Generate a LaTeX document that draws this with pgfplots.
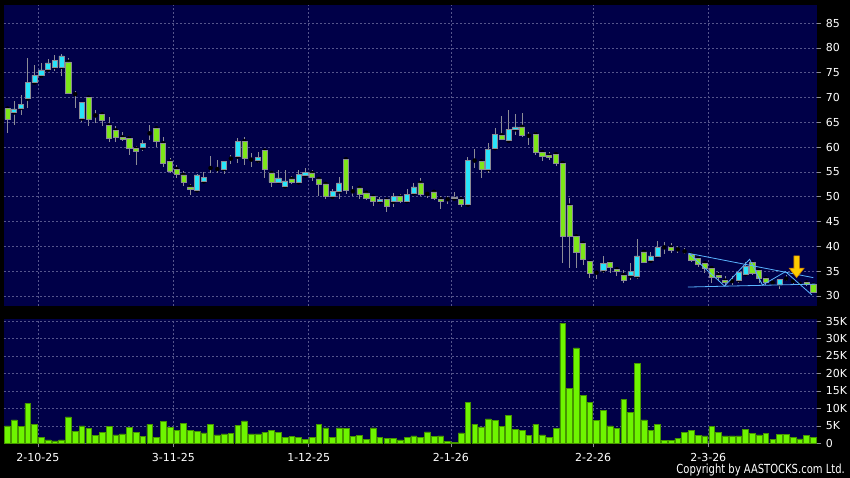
\documentclass[border=0pt]{standalone}
\usepackage{pgfplots}
\usepackage{pgfplotstable}
\pgfplotsset{compat=1.18}
\usepackage{fontspec}
\setmainfont{DejaVu Sans}
\definecolor{navy}{RGB}{0,0,72}
\definecolor{gridc}{RGB}{85,85,140}
\definecolor{upc}{RGB}{40,228,250}
\definecolor{dnc}{RGB}{125,230,25}
\definecolor{volc}{RGB}{110,245,0}
\definecolor{volb}{RGB}{70,150,0}
\definecolor{wick}{RGB}{140,140,150}
\definecolor{trend}{RGB}{90,180,255}
\definecolor{arry}{RGB}{255,205,0}
\definecolor{arro}{RGB}{210,130,0}

\pgfplotstableread{
i o h l c
0 67.8 68.0 62.8 65.6
1 67.0 69.3 64.5 67.7
2 67.9 70.5 66.5 68.6
3 69.8 78.0 68.0 73.0
4 73.0 76.5 72.7 74.5
5 74.4 77.0 74.0 75.6
6 75.7 77.7 75.5 77.0
7 76.2 78.5 75.3 77.5
8 76.2 78.7 74.3 78.4
9 77.2 77.9 70.7 70.8
10 70.7 71.3 68.0 70.7
11 65.8 69.2 65.0 69.0
12 70.0 70.2 64.2 65.7
13 66.4 67.5 64.8 66.4
14 66.6 66.9 64.2 65.4
15 64.4 66.0 61.1 61.8
16 63.4 64.2 61.1 62.0
17 62.0 63.0 61.3 61.6
18 61.8 62.2 58.5 59.8
19 59.7 60.2 56.5 59.1
20 59.9 61.5 59.3 60.7
21 62.8 64.5 61.5 62.8
22 63.8 64.0 60.1 61.1
23 60.8 62.0 56.0 56.7
24 57.1 57.8 54.7 55.1
25 55.6 56.5 53.8 54.5
26 54.4 55.1 52.1 52.9
27 52.0 52.5 50.3 51.6
28 51.3 54.5 50.9 54.4
29 53.1 55.0 52.9 53.9
30 55.8 58.3 54.8 55.8
31 55.6 57.5 54.7 55.6
32 55.6 57.3 54.5 57.2
33 57.7 58.5 56.7 57.7
34 58.1 61.8 56.8 61.2
35 61.2 62.0 56.5 57.8
36 57.5 58.9 56.1 57.5
37 57.3 59.1 56.8 58.0
38 59.3 59.5 53.8 55.5
39 54.8 55.0 52.0 52.9
40 53.0 55.5 52.8 53.8
41 52.1 55.3 52.1 53.2
42 53.6 54.1 52.6 52.9
43 52.9 55.5 52.7 54.5
44 54.3 55.8 54.0 54.9
45 54.8 55.5 53.1 54.0
46 53.6 53.6 50.1 52.6
47 52.6 52.8 49.6 50.1
48 50.0 51.5 49.8 51.1
49 51.1 53.9 49.5 52.8
50 57.6 57.8 50.5 51.3
51 51.1 52.1 50.1 51.1
52 51.8 52.1 49.6 50.4
53 50.8 50.8 49.4 49.7
54 50.0 50.1 48.1 49.0
55 49.0 50.0 48.5 49.4
56 49.4 49.6 46.9 48.1
57 49.0 50.8 48.0 50.0
58 50.0 50.5 48.7 49.0
59 49.1 51.5 48.8 50.5
60 50.7 52.8 50.5 52.0
61 52.8 53.8 50.1 50.5
62 50.6 50.9 49.8 50.6
63 51.0 51.4 49.4 49.6
64 49.5 50.1 47.5 49.1
65 49.5 50.1 48.5 49.5
66 49.6 51.0 49.5 49.9
67 49.5 49.8 48.0 48.4
68 48.4 58.1 48.3 57.3
69 57.3 59.6 55.8 57.3
70 57.1 57.4 53.8 55.6
71 55.6 60.8 54.7 59.5
72 59.8 63.8 59.8 62.6
73 62.4 66.3 61.4 61.6
74 61.3 67.5 61.3 63.6
75 63.6 66.7 62.5 64.1
76 64.1 66.8 62.0 62.3
77 62.3 63.0 60.5 62.3
78 62.6 63.0 58.5 59.0
79 59.0 59.2 57.3 58.1
80 58.3 59.1 57.4 57.9
81 58.6 58.8 56.2 56.8
82 56.8 57.2 36.7 42.1
83 48.2 49.7 35.6 42.0
84 42.0 42.0 35.6 38.8
85 40.6 40.8 36.3 37.3
86 36.9 37.2 33.6 34.6
87 34.7 35.0 33.4 34.7
88 35.2 38.1 34.6 36.6
89 36.7 36.9 34.6 35.8
90 35.4 35.6 34.0 35.0
91 34.2 35.2 32.7 33.2
92 34.1 36.6 33.3 34.9
93 34.0 41.5 33.4 38.1
94 38.9 39.1 36.6 36.8
95 37.1 38.9 36.8 38.1
96 38.1 41.0 37.8 39.8
97 39.8 40.8 38.5 39.8
98 39.8 40.6 38.6 39.2
99 39.4 40.1 38.6 39.4
100 39.0 39.7 38.4 39.0
101 38.4 38.8 36.8 37.1
102 37.5 37.6 35.9 36.3
103 36.6 36.7 34.6 35.6
104 35.6 35.7 32.7 33.7
105 34.2 34.9 33.0 33.7
106 33.1 34.1 32.0 32.7
107 33.0 34.1 32.2 33.0
108 33.2 34.9 32.7 34.7
109 34.4 36.9 34.3 35.9
110 36.7 37.0 34.3 34.6
111 35.1 35.2 32.7 33.5
112 33.5 33.6 32.2 32.7
113 32.7 33.2 32.2 32.7
114 32.4 33.5 31.5 33.3
115 33.5 34.3 33.0 33.5
116 33.0 33.5 32.5 33.0
117 32.5 32.8 32.2 32.5
118 32.7 33.0 32.0 32.3
119 32.3 32.5 30.5 30.8
}\ohlc

\pgfplotstableread{
i v
0 5.0
1 6.7
2 4.8
3 11.4
4 5.4
5 1.6
6 1.0
7 0.7
8 1.0
9 7.6
10 3.4
11 5.0
12 4.3
13 2.3
14 3.1
15 4.8
16 2.4
17 2.7
18 4.6
19 3.1
20 1.9
21 5.4
22 1.6
23 6.3
24 4.5
25 3.8
26 5.7
27 3.6
28 3.5
29 3.0
30 5.5
31 2.4
32 2.7
33 2.9
34 5.1
35 6.4
36 2.7
37 2.7
38 3.2
39 3.6
40 3.1
41 1.8
42 1.9
43 1.8
44 1.1
45 1.7
46 5.4
47 4.4
48 1.8
49 4.4
50 4.3
51 1.9
52 2.2
53 1.1
54 4.4
55 1.7
56 1.4
57 1.4
58 1.0
59 1.8
60 2.1
61 1.8
62 3.3
63 1.9
64 2.1
65 0.5
66 0.3
67 3.0
68 11.8
69 5.4
70 4.7
71 7.0
72 6.5
73 4.9
74 7.9
75 3.9
76 3.6
77 2.2
78 5.5
79 2.4
80 1.7
81 4.2
82 34.4
83 15.7
84 27.3
85 13.7
86 11.7
87 6.6
88 9.5
89 5.0
90 4.3
91 12.5
92 8.9
93 22.8
94 6.7
95 3.6
96 5.5
97 0.8
98 0.8
99 1.4
100 3.2
101 3.8
102 2.2
103 2.1
104 4.8
105 3.1
106 2.1
107 2.1
108 2.1
109 3.9
110 2.9
111 2.4
112 2.8
113 1.2
114 2.6
115 2.5
116 1.8
117 1.3
118 2.2
119 1.7
}\vol

\pgfplotsset{
  pricegeom/.style={
    at={(4pt,172pt)}, anchor=south west,
    scale only axis, width=813.3pt, height=301pt,
    xmin=-0.5, xmax=119.6, ymin=27.98, ymax=88.67,
  },
}

\begin{document}
\begin{tikzpicture}
\fill[black] (0,0) rectangle (850pt,478pt);

% price panel: background, grid, wicks
\begin{axis}[
  pricegeom,
  axis background/.style={fill=navy},
  axis line style={draw=none},
  xtick={4.5,24.5,44.5,65.5,86.5,103.5}, xticklabels={},
  xtick style={draw=none},
  ytick={30,35,...,85},
  ytick pos=right, yticklabel pos=right,
  grid=major,
  major grid style={gridc, dash pattern=on 2pt off 2pt, line width=0.6pt},
  tick align=outside, major tick length=4pt,
  ytick style={wick, line width=0.6pt},
  yticklabel style={text=white, font=\fontsize{11}{11}\selectfont, xshift=1pt},
  /pgf/number format/assume math mode=true,
]
\addplot[only marks, mark=none,
  error bars/.cd, y dir=both, y explicit, error mark=none,
  error bar style={draw=wick, solid, line width=0.8pt}]
  table[x=i, y=o, y error plus expr=\thisrow{h}-\thisrow{o}, y error minus expr=\thisrow{o}-\thisrow{l}] {\ohlc};
\end{axis}

% candle bodies
\begin{axis}[
  pricegeom, hide axis,
  ybar stacked, bar width=0.76,
]
\addplot[draw=none, fill=none] table[x=i, y expr={min(\thisrow{o},\thisrow{c})}] {\ohlc};
\addplot[fill=upc, draw=wick, line width=0.6pt] table[x=i, y expr={max(\thisrow{c}-\thisrow{o},0)}] {\ohlc};
\addplot[fill=dnc, draw=wick, line width=0.6pt] table[x=i, y expr={max(\thisrow{o}-\thisrow{c},0)}] {\ohlc};
\end{axis}

% trend lines and arrow
\begin{axis}[pricegeom, hide axis]
\addplot[trend, line width=0.8pt, mark=none] coordinates {(100.6,38.6) (119.0,33.7)};
\addplot[trend, line width=0.8pt, mark=none] coordinates {(100.5,31.8) (119.3,32.4)};
\addplot[trend, line width=0.8pt, mark=none] coordinates {(100.6,38.6) (105.9,32.0) (109.6,37.4) (111.5,32.2) (114.9,34.9) (118.8,30.2)};
\addplot[fill=arry, draw=arro, line width=0.6pt, mark=none] coordinates {(116.15,38.1) (116.95,38.1) (116.95,35.6) (117.65,35.6) (116.55,33.7) (115.45,35.6) (116.15,35.6)} -- cycle;
\end{axis}

% volume panel
\begin{axis}[
  at={(4pt,34.7pt)}, anchor=south west,
  scale only axis, width=813.3pt, height=124pt,
  xmin=-0.5, xmax=119.6, ymin=0, ymax=35.5,
  axis background/.style={fill=navy},
  axis line style={draw=none},
  ybar, bar width=0.84,
  xtick={4.5,24.5,44.5,65.5,86.5,103.5},
  xticklabels={2-10-25,3-11-25,1-12-25,2-1-26,2-2-26,2-3-26},
  ytick={0,5,...,35}, yticklabels={0,5K,10K,15K,20K,25K,30K,35K},
  ytick pos=right, yticklabel pos=right,
  xtick pos=bottom,
  grid=major,
  major grid style={gridc, dash pattern=on 2pt off 2pt, line width=0.6pt},
  tick align=outside, major tick length=4pt,
  tick style={wick, line width=0.6pt},
  yticklabel style={text=white, font=\fontsize{11}{11}\selectfont, xshift=1pt},
  xticklabel style={text=white, font=\fontsize{11}{11}\selectfont, yshift=-3pt},
]
\addplot[fill=volc, draw=volb, line width=0.5pt] table[x=i, y=v] {\vol};
\end{axis}

\node[anchor=base east, inner sep=0pt, text=white] at (845pt,4.5pt)
  {\scalebox{0.8}[1]{\fontsize{12.5}{12.5}\selectfont Copyright by AASTOCKS.com Ltd.}};

\pgfresetboundingbox
\path[use as bounding box] (0,0) rectangle (850pt,478pt);
\end{tikzpicture}
\end{document}
